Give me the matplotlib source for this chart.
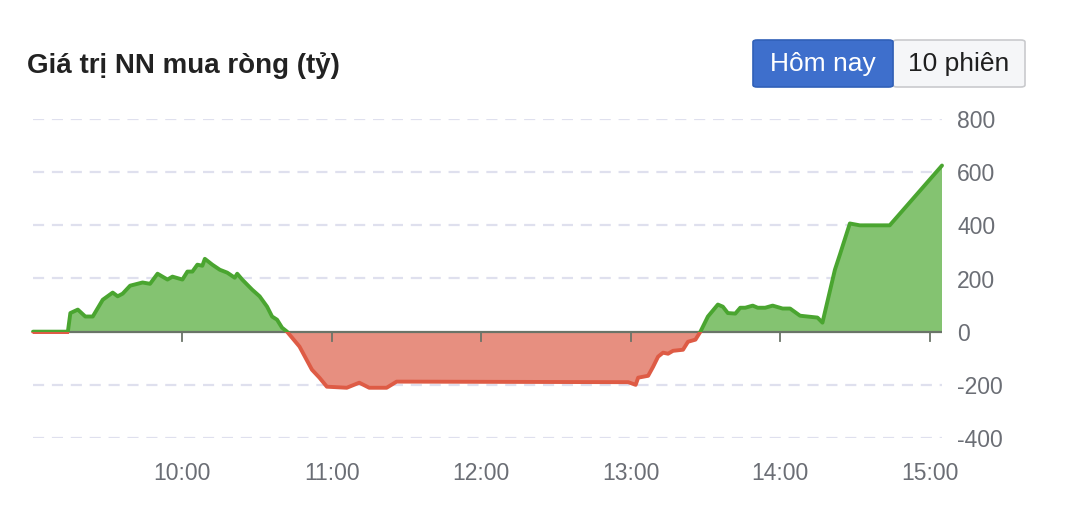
import numpy as np
import matplotlib
matplotlib.use("Agg")
import matplotlib.pyplot as plt
from matplotlib.patches import Rectangle, FancyBboxPatch
from matplotlib.ticker import FuncFormatter

# net foreign buying value (ty dong) through the session
times = ["09:00", "09:14", "09:15", "09:18", "09:21", "09:24", "09:28", "09:32",
         "09:34", "09:36", "09:39", "09:44", "09:47", "09:50", "09:54", "09:56",
         "10:00", "10:02", "10:04", "10:06", "10:08", "10:09", "10:12", "10:15",
         "10:18", "10:21", "10:22", "10:24", "10:28", "10:31", "10:34", "10:36",
         "10:38", "10:40", "10:42", "10:47", "10:52", "10:55", "10:58", "11:06",
         "11:11", "11:15", "11:22", "11:26", "11:30", "12:59", "13:02", "13:03",
         "13:07", "13:09", "13:11", "13:13", "13:15", "13:17", "13:21", "13:23",
         "13:26", "13:28", "13:31", "13:35", "13:37", "13:39", "13:42", "13:44",
         "13:46", "13:49", "13:51", "13:54", "13:57", "14:01", "14:04", "14:08",
         "14:12", "14:15", "14:17", "14:22", "14:24", "14:28", "14:32", "14:44",
         "15:05"]
values = [0, 0, 70, 83, 57, 57, 120, 147,
          133, 143, 173, 185, 180, 218, 196, 207,
          196, 226, 226, 252, 248, 274, 252, 233,
          222, 203, 218, 196, 158, 133, 94, 57,
          45, 15, 0, -56, -143, -173, -207, -211,
          -192, -211, -211, -188, -188, -190, -200, -173,
          -166, -132, -94, -79, -83, -72, -68, -38,
          -30, 0, 57, 102, 94, 70, 68, 90,
          90, 98, 90, 90, 98, 87, 87, 60,
          56, 53, 34, 233, 290, 407, 400, 400,
          625]

x_ticks = ["10:00", "11:00", "12:00", "13:00", "14:00", "15:00"]
y_ticks = [-400, -200, 0, 200, 400, 600, 800]
title = "Giá trị NN mua ròng (tỷ)"
buttons = ["Hôm nay", "10 phiên"]


def to_hours(s):
    h, m = s.split(":")
    return int(h) + int(m) / 60


x = np.array([to_hours(t) for t in times])
y = np.array(values, dtype=float)

GREEN_LINE = "#4aa530"
GREEN_FILL = "#84c371"
RED_LINE = "#de5b45"
RED_FILL = "#e78f80"
TICK_COLOR = "#6b6e75"

plt.rcParams["font.family"] = ["Liberation Sans", "DejaVu Sans"]

fig = plt.figure(figsize=(10.66, 5.12), dpi=100)
ax = fig.add_axes([33 / 1066, 1 - 438 / 512, (942 - 33) / 1066, (438 - 119) / 512])

ax.set_xlim(x[0], x[-1])
ax.set_ylim(-400, 800)

# grid
for v in y_ticks:
    if v != 0:
        ax.axhline(v, color="#dfe0ee", lw=1.6, ls=(0, (5, 3.5)), zorder=0)

ax.fill_between(x, y, 0, where=y >= 0, interpolate=True, color=GREEN_FILL, lw=0, zorder=1)
ax.fill_between(x, y, 0, where=y <= 0, interpolate=True, color=RED_FILL, lw=0, zorder=1)

# zero axis line
ax.axhline(0, color="#6a7468", lw=1.6, zorder=2)

# line coloured by sign
red_line, = ax.plot(x, y, color=RED_LINE, lw=2.8, zorder=3,
                    solid_joinstyle="round", solid_capstyle="round")
green_line, = ax.plot(x, y, color=GREEN_LINE, lw=2.8, zorder=4,
                      solid_joinstyle="round", solid_capstyle="round")
clip_pos = Rectangle((x[0] - 1, 0), 10, 2000, transform=ax.transData)
clip_neg = Rectangle((x[0] - 1, -2000), 10, 2000, transform=ax.transData)
green_line.set_clip_path(clip_pos)
red_line.set_clip_path(clip_neg)
# a small bit of red just under the flat opening segment
ax.plot(x[:2], y[:2] - 5, color=RED_LINE, lw=1.4, zorder=3)

for s in ax.spines.values():
    s.set_visible(False)

# tick marks sit on the zero line
xt = [to_hours(t) for t in x_ticks]
ax.set_xticks(xt)
ax.tick_params(axis="x", length=0, labelbottom=False)
for v in xt:
    ax.plot([v, v], [0, -36], color="#6a7468", lw=1.3, zorder=2)

# x labels at the bottom
sec = ax.secondary_xaxis("bottom")
sec.set_xticks(xt)
sec.set_xticklabels(x_ticks)
sec.tick_params(length=0, pad=17, labelsize=16.5, labelcolor=TICK_COLOR)
for s in sec.spines.values():
    s.set_visible(False)

ax.yaxis.tick_right()
ax.set_yticks(y_ticks)
ax.yaxis.set_major_formatter(FuncFormatter(lambda v, p: f"{int(v)}"))
ax.tick_params(axis="y", length=0, pad=11, labelsize=16.5, labelcolor=TICK_COLOR)
ax.grid(False)

# title
fig.text(27 / 1066, 1 - 66 / 512, title, fontsize=20, fontweight="bold",
         color="#222222", va="center", ha="left")

# range buttons
bx = [753, 893, 1025]
by0, by1 = 40, 87
h = (by1 - by0) / 512
fig.patches.append(FancyBboxPatch((bx[1] / 1066, 1 - by1 / 512), (bx[2] - bx[1]) / 1066, h,
                                  boxstyle="round,pad=0,rounding_size=0.004",
                                  transform=fig.transFigure, facecolor="#f5f6f8",
                                  edgecolor="#c9cacd", lw=1.2))
fig.patches.append(FancyBboxPatch((bx[0] / 1066, 1 - by1 / 512), (bx[1] - bx[0]) / 1066, h,
                                  boxstyle="round,pad=0,rounding_size=0.004",
                                  transform=fig.transFigure, facecolor="#3e6fcc",
                                  edgecolor="#3060b8", lw=1.2))
fig.text((bx[0] + bx[1]) / 2 / 1066, 1 - (by0 + by1) / 2 / 512, buttons[0],
         fontsize=19, color="white", ha="center", va="center")
fig.text((bx[1] + bx[2]) / 2 / 1066, 1 - (by0 + by1) / 2 / 512, buttons[1],
         fontsize=19, color="#1f1f1f", ha="center", va="center")

fig.savefig("out.png", dpi=100)
